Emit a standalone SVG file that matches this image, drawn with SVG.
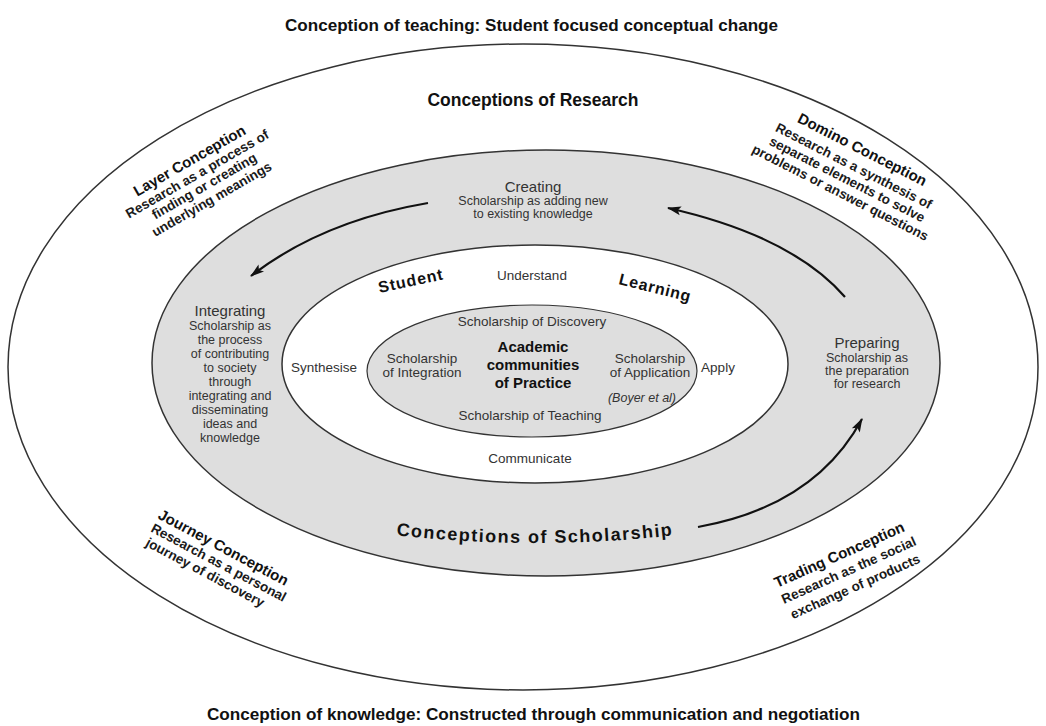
<svg xmlns="http://www.w3.org/2000/svg" width="1046" height="726" viewBox="0 0 1046 726">
<style>
text{font-family:"Liberation Sans",Arial,sans-serif;}
.title{font-size:16px;font-weight:bold;fill:#111;text-anchor:middle;}
.ring{stroke:#333;stroke-width:1.5;}
.ctitle{font-size:15px;font-weight:bold;fill:#111;}
.cbody{font-size:13.5px;font-weight:bold;fill:#1a1a1a;}
.big{font-size:15px;fill:#333;text-anchor:middle;}
.sm{font-size:12.5px;fill:#333;text-anchor:middle;}
.mid{font-size:13.5px;fill:#333;text-anchor:middle;}
.bold{font-weight:bold;fill:#111;}
.arrow{fill:none;stroke:#111;stroke-width:2.2;marker-end:url(#ah);}
</style>
<defs>
<marker id="ah" viewBox="0 0 14 10" refX="13" refY="5" markerWidth="15" markerHeight="10" markerUnits="userSpaceOnUse" orient="auto">
<path d="M0,0.5 L14,5 L0,9.5 L3,5 Z" fill="#111"/>
</marker>
</defs>
<rect width="1046" height="726" fill="#fff"/>

<g id="outer-ring">
<ellipse cx="523" cy="367" rx="515" ry="323" fill="#fff" class="ring"/>
</g>
<g id="scholarship-ring">
<ellipse cx="546" cy="363" rx="394" ry="213" fill="#dedede" class="ring"/>
</g>
<g id="learning-ring">
<ellipse cx="535" cy="364" rx="253" ry="119" fill="#fff" class="ring"/>
</g>
<g id="core">
<ellipse cx="532" cy="371" rx="165" ry="66" fill="#dedede" stroke="#333" stroke-width="1.2"/>
<text class="mid" x="532" y="326">Scholarship of Discovery</text>
<text class="big bold" x="533" y="352">Academic</text>
<text class="big bold" x="533" y="370">communities</text>
<text class="big bold" x="533" y="388">of Practice</text>
<text class="mid" x="422" y="363">Scholarship</text>
<text class="mid" x="422" y="377">of Integration</text>
<text class="mid" x="650" y="363">Scholarship</text>
<text class="mid" x="650" y="377">of Application</text>
<text class="sm" x="642" y="402" font-style="italic">(Boyer et al)</text>
<text class="mid" x="530" y="420">Scholarship of Teaching</text>
</g>

<g id="title-top"><text class="title" x="531.5" y="31" textLength="493" lengthAdjust="spacingAndGlyphs">Conception of teaching: Student focused conceptual change</text></g>
<g id="title-bottom"><text class="title" x="533.5" y="720" textLength="653" lengthAdjust="spacingAndGlyphs">Conception of knowledge: Constructed through communication and negotiation</text></g>
<g id="research-label"><text x="533" y="106" font-size="17.5" font-weight="bold" fill="#111" text-anchor="middle">Conceptions of Research</text></g>

<g id="layer" transform="translate(192,165) rotate(-30)">
<text class="ctitle" x="0" y="0" text-anchor="middle">Layer Conception</text>
<text class="cbody" x="0" y="15" text-anchor="middle">Research as a process of</text>
<text class="cbody" x="0" y="29" text-anchor="middle">finding or creating</text>
<text class="cbody" x="0" y="44" text-anchor="middle">underlying meanings</text>
</g>
<g id="domino" transform="translate(860,154) rotate(27)">
<text class="ctitle" x="0" y="0" text-anchor="middle">Domino Conception</text>
<text class="cbody" x="0" y="18" text-anchor="middle">Research as a synthesis of</text>
<text class="cbody" x="0" y="33" text-anchor="middle">separate elements to solve</text>
<text class="cbody" x="0" y="48" text-anchor="middle">problems or answer questions</text>
</g>
<g id="journey" transform="translate(157,518) rotate(28)">
<text class="ctitle" x="0" y="0">Journey Conception</text>
<text class="cbody" x="0" y="15">Research as a personal</text>
<text class="cbody" x="2" y="30">journey of discovery</text>
</g>
<g id="trading" transform="translate(777,588) rotate(-24)">
<text class="ctitle" x="0" y="0">Trading Conception</text>
<text class="cbody" x="0" y="17.5">Research as the social</text>
<text class="cbody" x="2" y="35">exchange of products</text>
</g>

<g id="creating">
<text class="big" x="533" y="192">Creating</text>
<text class="sm" x="533" y="205">Scholarship as adding new</text>
<text class="sm" x="533" y="218">to existing knowledge</text>
</g>
<g id="integrating">
<text class="big" x="230" y="316">Integrating</text>
<text class="sm" x="230" y="330">Scholarship as</text>
<text class="sm" x="230" y="344">the process</text>
<text class="sm" x="230" y="358">of contributing</text>
<text class="sm" x="230" y="372">to society</text>
<text class="sm" x="230" y="386">through</text>
<text class="sm" x="230" y="400">integrating and</text>
<text class="sm" x="230" y="414">disseminating</text>
<text class="sm" x="230" y="428">ideas and</text>
<text class="sm" x="230" y="442">knowledge</text>
</g>
<g id="preparing">
<text class="big" x="867" y="348">Preparing</text>
<text class="sm" x="867" y="362">Scholarship as</text>
<text class="sm" x="867" y="375">the preparation</text>
<text class="sm" x="867" y="388">for research</text>
</g>

<g id="learning-labels">
<text class="mid" x="532" y="280">Understand</text>
<text class="mid" x="324" y="372">Synthesise</text>
<text class="mid" x="718" y="372">Apply</text>
<text class="mid" x="530" y="463">Communicate</text>
<text transform="translate(412,286) rotate(-12)" font-size="16" font-weight="bold" fill="#111" text-anchor="middle" letter-spacing="1">Student</text>
<text transform="translate(654,293) rotate(14)" font-size="16" font-weight="bold" fill="#111" text-anchor="middle" letter-spacing="0.8">Learning</text>
</g>

<g id="scholarship-label">
<defs><path id="schpath" d="M 370,532 Q 535,554 700,532"/></defs>
<text font-size="18" font-weight="bold" fill="#111" letter-spacing="1.5"><textPath href="#schpath" startOffset="50%" text-anchor="middle">Conceptions of Scholarship</textPath></text>
</g>

<g id="connectors">
<path class="arrow" d="M 428,203 Q 322,221 251,276"/>
<path class="arrow" d="M 845,297 Q 792,236 668,208"/>
<path class="arrow" d="M 698,527 Q 815,506 862,419"/>
</g>
</svg>
